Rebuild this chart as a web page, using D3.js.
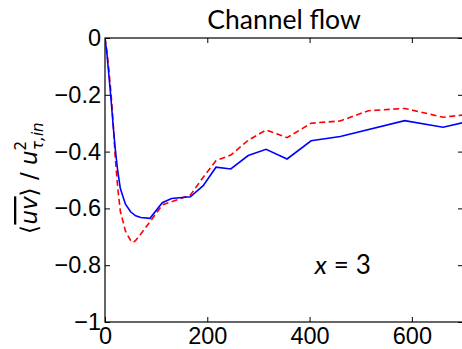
<!DOCTYPE html>
<html>
<head>
<script src="https://cdn.jsdelivr.net/npm/d3@7"></script>
<style>
  body { margin: 0; background: #fff; }
  .chart text { font-family: "Liberation Sans", Arial, sans-serif; fill: #000; }
  .chart .tick line { stroke: #000; }
  .chart .domain { display: none; }
</style>
</head>
<body>
<svg class="chart" width="462" height="349"></svg>
<script>
// wall-normal distance samples and <uv> values
var xBlue = [0, 4, 8, 12, 16, 20, 25, 30, 40, 50, 60, 70, 88, 112, 130, 167, 192, 217, 246, 280, 315, 356, 403, 460, 586, 661, 700];
var uvBlue = [0, -0.06, -0.14, -0.22, -0.31, -0.39, -0.47, -0.53, -0.585, -0.612, -0.626, -0.632, -0.635, -0.58, -0.565, -0.559, -0.52, -0.455, -0.461, -0.414, -0.392, -0.426, -0.362, -0.347, -0.291, -0.314, -0.298];

var xRed = [0, 4, 8, 12, 16, 20, 25, 30, 40, 50, 55, 60, 70, 88, 112, 140, 167, 192, 217, 246, 280, 315, 356, 403, 460, 515, 586, 661, 700];
var uvRed = [0, -0.05, -0.12, -0.2, -0.3, -0.42, -0.53, -0.61, -0.68, -0.713, -0.72, -0.713, -0.69, -0.647, -0.588, -0.57, -0.553, -0.49, -0.432, -0.412, -0.36, -0.324, -0.351, -0.3, -0.292, -0.256, -0.248, -0.279, -0.271];

var xTicks = [0, 200, 400, 600];
var yTicks = [0, -0.2, -0.4, -0.6, -0.8, -1];

var margin = {top: 38, right: -1, bottom: 27, left: 105};
var svg = d3.select("svg");
var width = 462 - margin.left - margin.right;
var height = 349 - margin.top - margin.bottom;

var x = d3.scaleLinear().domain([0, 700]).range([0, width]);
var y = d3.scaleLinear().domain([-1, 0]).range([height, 0]);

var g = svg.append("g").attr("transform", "translate(" + margin.left + "," + margin.top + ")");

function yfmt(d) { return d === 0 ? "0" : "\u2212" + Math.abs(d); }

g.append("clipPath").attr("id", "clip")
  .append("rect").attr("width", width).attr("height", height);

// ticks pointing inwards on all four sides
g.append("g").attr("transform", "translate(0," + height + ")")
  .call(d3.axisBottom(x).tickValues(xTicks).tickSizeInner(-5).tickSizeOuter(0).tickPadding(5).tickFormat(d3.format("d")))
  .selectAll("text").style("font-size", "23.5px");
g.append("g")
  .call(d3.axisTop(x).tickValues(xTicks).tickSizeInner(-5).tickSizeOuter(0).tickFormat(""));
g.append("g")
  .call(d3.axisLeft(y).tickValues(yTicks).tickSizeInner(-5).tickSizeOuter(0).tickPadding(4).tickFormat(yfmt))
  .selectAll("text").style("font-size", "23.5px");
g.append("g").attr("transform", "translate(" + width + ",0)")
  .call(d3.axisRight(y).tickValues(yTicks).tickSizeInner(-5).tickSizeOuter(0).tickFormat(""));

g.append("rect").attr("width", width).attr("height", height)
  .attr("fill", "none").attr("stroke", "#000").attr("stroke-width", 1.2);

var line = d3.line().x(function(d){ return x(d[0]); }).y(function(d){ return y(d[1]); });

g.append("path").datum(d3.zip(xRed, uvRed))
  .attr("clip-path", "url(#clip)")
  .attr("d", line).attr("fill", "none")
  .attr("stroke", "#ff0000").attr("stroke-width", 1.6).attr("stroke-dasharray", "6,3.5");

g.append("path").datum(d3.zip(xBlue, uvBlue))
  .attr("clip-path", "url(#clip)")
  .attr("d", line).attr("fill", "none")
  .attr("stroke", "#0000ff").attr("stroke-width", 1.6);

// title
svg.append("text").attr("x", margin.left + width / 2).attr("y", 29)
  .attr("text-anchor", "middle")
  .style("font-family", "Lato, sans-serif").style("font-size", "26.5px")
  .text("Channel flow");

// annotation
var ann = g.append("text").attr("x", x(410)).attr("y", y(-0.83))
  .style("font-family", "Lato, sans-serif").style("font-size", "26px");
ann.append("tspan").style("font-style", "italic").text("x");
ann.append("tspan").attr("dx", 7).text("=");
ann.append("tspan").attr("dx", 7).text("3");

// y label
var yl = svg.append("text")
  .attr("transform", "translate(37," + (margin.top + height / 2 - 2) + ") rotate(-90)")
  .attr("text-anchor", "middle")
  .style("font-family", "'DejaVu Sans', sans-serif").style("font-size", "23px");
yl.append("tspan").style("font-weight", "300").text("\u27E8");
yl.append("tspan").style("font-style", "italic")
  .style("text-decoration", "overline").style("text-decoration-thickness", "3px")
  .text("uv");
yl.append("tspan").text("\u27E9 / ");
yl.append("tspan").style("font-style", "italic").text("u");
yl.append("tspan").attr("dy", -11).style("font-size", "15px").text("2");
yl.append("tspan").attr("dx", -9).attr("dy", 17).style("font-size", "15px").style("font-style", "italic").text("\u03C4,in");
</script>
</body>
</html>
